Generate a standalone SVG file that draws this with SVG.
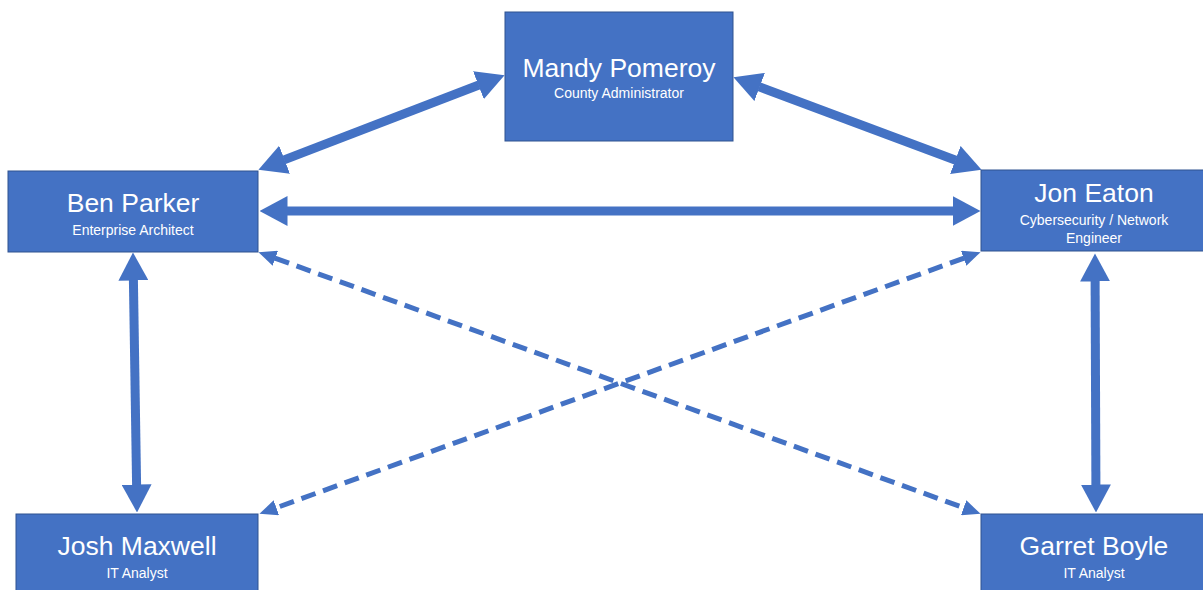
<svg xmlns="http://www.w3.org/2000/svg" width="1203" height="590" viewBox="0 0 1203 590">
<style>
.box{fill:#4472C4;stroke:#2F528F;stroke-width:1}
.t{font-family:"Liberation Sans",Arial,sans-serif;fill:#fff;text-anchor:middle}
.name{font-size:26.5px}
.sub{font-size:14px}
.solid{stroke:#4472C4;stroke-width:9;fill:none;marker-start:url(#big);marker-end:url(#big)}
.dash{stroke:#4472C4;stroke-width:5;fill:none;stroke-dasharray:15 8;marker-start:url(#small);marker-end:url(#small)}
</style>
<defs>
<marker id="big" markerUnits="userSpaceOnUse" markerWidth="28" markerHeight="30" viewBox="0 0 28 30" refX="0.5" refY="15" orient="auto-start-reverse"><path d="M0,0 L28,15 L0,30 z" fill="#4472C4"/></marker>
<marker id="small" markerUnits="userSpaceOnUse" markerWidth="18" markerHeight="16" viewBox="0 0 18 16" refX="0.5" refY="8" orient="auto-start-reverse"><path d="M0,0 L18,8 L0,16 z" fill="#4472C4"/></marker>
</defs>
<rect width="1203" height="590" fill="#fff"/>
<g id="connectors">
<line class="solid" x1="284.1" y1="159.9" x2="478.9" y2="85"/>
<line class="solid" x1="759.2" y1="86.8" x2="955.8" y2="160.2"/>
<line class="solid" x1="287" y1="211" x2="953" y2="211"/>
<line class="solid" x1="133.4" y1="280" x2="136.6" y2="485"/>
<line class="solid" x1="1095.1" y1="281" x2="1095.9" y2="485"/>
<line class="dash" x1="274.9" y1="258.1" x2="964.1" y2="507.9"/>
<line class="dash" x1="964.1" y1="258.1" x2="275.9" y2="507.9"/>
</g>
<g id="mandy">
<rect class="box" x="505" y="12" width="228" height="129"/>
<text class="t name" x="619" y="77">Mandy Pomeroy</text>
<text class="t sub" x="619" y="98">County Administrator</text>
</g>
<g id="ben">
<rect class="box" x="8" y="171" width="250" height="81"/>
<text class="t name" x="133" y="212">Ben Parker</text>
<text class="t sub" x="133" y="235">Enterprise Architect</text>
</g>
<g id="jon">
<rect class="box" x="981" y="170" width="223" height="81"/>
<text class="t name" x="1094" y="202">Jon Eaton</text>
<text class="t sub" x="1094" y="225">Cybersecurity / Network</text>
<text class="t sub" x="1094" y="243">Engineer</text>
</g>
<g id="josh">
<rect class="box" x="16" y="514" width="242" height="80"/>
<text class="t name" x="137" y="555">Josh Maxwell</text>
<text class="t sub" x="137" y="578">IT Analyst</text>
</g>
<g id="garret">
<rect class="box" x="981" y="514" width="223" height="80"/>
<text class="t name" x="1094" y="555">Garret Boyle</text>
<text class="t sub" x="1094" y="578">IT Analyst</text>
</g>
</svg>
